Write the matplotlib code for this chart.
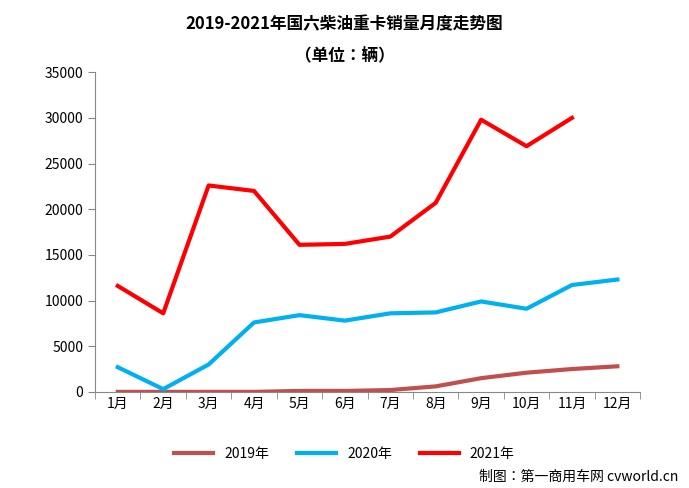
import matplotlib
matplotlib.use("Agg")
import matplotlib.pyplot as plt
from matplotlib import font_manager as fm

cjk = [f.name for f in fm.fontManager.ttflist if "CJK" in f.name]
pref = [n for n in ["Noto Sans CJK SC", "Noto Sans CJK JP", "Noto Sans CJK TC", "Noto Sans CJK KR"] if n in cjk] or sorted(set(cjk))
plt.rcParams["font.family"] = "sans-serif"
plt.rcParams["font.sans-serif"] = pref + ["DejaVu Sans"]

months = ["1月","2月","3月","4月","5月","6月","7月","8月","9月","10月","11月","12月"]
s2019 = [0,0,0,0,100,100,200,600,1500,2100,2500,2800]
s2020 = [2700,300,3000,7600,8400,7800,8600,8700,9900,9100,11700,12300]
s2021 = [11600,8600,22600,22000,16100,16200,17000,20700,29800,26900,30000]
yticks = list(range(0, 35001, 5000))

fig = plt.figure(figsize=(6.89, 4.88), dpi=100)
ax = fig.add_axes([0.138, 0.197, 0.791, 0.655])
x = list(range(len(months)))
ax.plot(x, s2019, color="#C0504D", lw=3, label="2019年")
ax.plot(x, s2020, color="#00B0F0", lw=3, label="2020年")
ax.plot(x[:len(s2021)], s2021, color="#FF0000", lw=3, label="2021年")
ax.set_xlim(-0.5, 11.5)
ax.set_ylim(0, 35000)
ax.set_yticks(yticks)
ax.set_xticks(x)
ax.set_xticklabels(months)
ax.tick_params(labelsize=10)
ax.set_xticks([i - 0.5 for i in range(13)], minor=True)
ax.tick_params(axis="x", which="major", length=0)
ax.tick_params(axis="x", which="minor", length=5, direction="out", color="#888888")
ax.tick_params(axis="y", length=5, direction="out", color="#888888")
for s in ["top", "right"]:
    ax.spines[s].set_visible(False)
for s in ["left", "bottom"]:
    ax.spines[s].set_color("#888888")
fig.text(0.5, 0.94, "2019-2021年国六柴油重卡销量月度走势图", ha="center", fontsize=12, weight="bold")
fig.text(0.5, 0.875, "（单位：辆）", ha="center", fontsize=12, weight="bold")
fig.legend(loc="center", bbox_to_anchor=(0.5, 0.07), ncol=3, frameon=False, fontsize=10, handlelength=2.8)
fig.text(0.985, 0.015, "制图：第一商用车网 cvworld.cn", ha="right", fontsize=10)
fig.savefig("out.png", dpi=100)
